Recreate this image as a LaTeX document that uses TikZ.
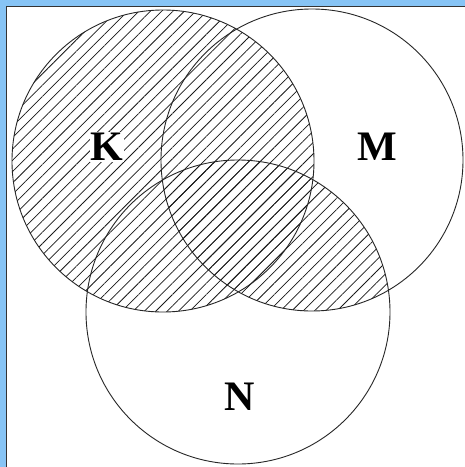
\documentclass[tikz,border=0pt]{standalone}
\usepackage{fontspec}
\setmainfont{Liberation Serif}
\usetikzlibrary{patterns.meta}
\definecolor{frameblue}{RGB}{135,196,245}
\tikzset{
  hatch/.style={pattern={Lines[angle=45,distance=8pt,line width=0.75pt]},pattern color=black!90},
  ring/.style={draw=black!85,line width=0.9pt},
  lab/.style={font=\bfseries\fontsize{42}{42}\selectfont,inner sep=0pt}
}
\begin{document}
\begin{tikzpicture}[x=1pt,y=-1pt]
\useasboundingbox (0,0) rectangle (465,467);
\fill[frameblue] (0,0) rectangle (465,467);
\fill[white] (6,6) rectangle (465,467);
\draw[black!80,line width=1pt] (6.5,467) -- (6.5,6.5) -- (465,6.5);
\coordinate (k) at (163,161);
\coordinate (m) at (312,160);
\coordinate (n) at (238,312);
\fill[hatch] (k) circle[radius=151];
\begin{scope}
  \clip (m) circle[radius=151];
  \fill[hatch] (n) circle[radius=152];
\end{scope}
\draw[ring] (k) circle[radius=151];
\draw[ring] (m) circle[radius=151];
\draw[ring] (n) circle[radius=152];
\node[lab,fill=white,inner sep=1pt] (K) at (107,147) {K};
\node[lab] (M) at (377,147) {M};
\node[lab] (N) at (240,397) {N};
\end{tikzpicture}
\end{document}
